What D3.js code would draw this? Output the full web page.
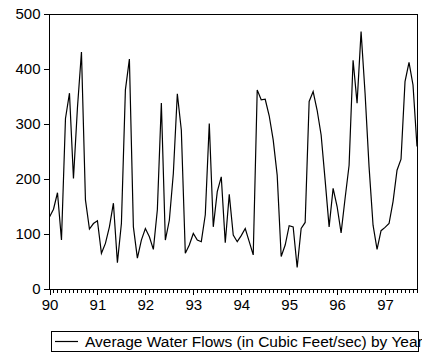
<!DOCTYPE html>
<html lang="en">

<head>
    <meta charset="UTF-8">
    <title>Average Water Flows</title>
    <script src="https://d3js.org/d3.v7.min.js"></script>
    <style>
        body {
            margin: 0;
            background: white;
        }

        svg text {
            font-family: "Liberation Sans", Arial, sans-serif;
            font-size: 15px;
            fill: black;
        }

        .legend-label {
            font-size: 15.5px;
        }

        .axis path,
        .axis line {
            stroke: black;
            shape-rendering: crispEdges;
        }
    </style>
</head>

<body>
    <div id="chart"></div>

    <script>
        // monthly observations, 1990M01 - 1997M09
        const yearLabels = ["90", "91", "92", "93", "94", "95", "96", "97"];
        const yTicks = [0, 100, 200, 300, 400, 500];
        const flows = [
            131, 145, 175, 89, 310, 356, 201, 330, 431, 162, 109, 119,
            124, 65, 83, 113, 156, 48, 119, 362, 418, 113, 56, 89,
            110, 95, 72, 144, 338, 89, 125, 210, 355, 289, 65, 80,
            101, 89, 86, 135, 301, 113, 177, 204, 84, 172, 98, 86,
            97, 110, 86, 62, 362, 344, 345, 315, 271, 207, 59, 80,
            115, 113, 39, 110, 121, 341, 359, 325, 280, 198, 113, 183,
            150, 102, 165, 225, 416, 338, 468, 356, 222, 116, 72, 106,
            112, 119, 159, 216, 236, 377, 412, 371, 259
        ];
        const seriesName = "Average Water Flows (in Cubic Feet/sec) by Year";

        const width = 422, height = 354;
        const plot = { left: 49.5, right: 417, top: 14, bottom: 289 };

        const svg = d3.select("#chart")
            .append("svg")
            .attr("width", width)
            .attr("height", height);

        // x is the month index
        const x = d3.scaleLinear()
            .domain([0, flows.length - 1])
            .range([plot.left, plot.right]);

        const y = d3.scaleLinear()
            .domain([0, 500])
            .range([plot.bottom, plot.top]);

        // frame
        svg.append("rect")
            .attr("x", plot.left)
            .attr("y", plot.top)
            .attr("width", plot.right - plot.left)
            .attr("height", plot.bottom - plot.top)
            .attr("fill", "none")
            .attr("stroke", "black")
            .attr("shape-rendering", "crispEdges");

        // Y axis
        svg.append("g")
            .attr("class", "axis")
            .attr("transform", `translate(${plot.left},0)`)
            .call(d3.axisLeft(y).tickValues(yTicks).tickSize(6).tickPadding(3).tickSizeOuter(0))
            .call(g => g.select(".domain").remove());

        // X axis: a tick each month, labels on January
        const months = d3.range(flows.length);
        const xAxis = svg.append("g")
            .attr("class", "axis")
            .attr("transform", `translate(0,${plot.bottom})`)
            .call(d3.axisBottom(x)
                .tickValues(months)
                .tickSize(4)
                .tickSizeOuter(0)
                .tickPadding(3)
                .tickFormat(i => i % 12 === 0 ? yearLabels[i / 12] : ""));
        xAxis.select(".domain").remove();
        xAxis.selectAll(".tick")
            .filter(i => i % 12 === 0)
            .select("line")
            .attr("y2", 6);
        xAxis.selectAll(".tick text").attr("dy", "0.95em");

        // series line
        const line = d3.line()
            .x((d, i) => x(i))
            .y(d => y(d));

        svg.append("path")
            .datum(flows)
            .attr("fill", "none")
            .attr("stroke", "black")
            .attr("stroke-width", 1.2)
            .attr("d", line);

        // legend
        const legend = svg.append("g");
        legend.append("rect")
            .attr("x", 51.5)
            .attr("y", 331.5)
            .attr("width", 367)
            .attr("height", 20)
            .attr("fill", "white")
            .attr("stroke", "black");
        legend.append("line")
            .attr("x1", 55)
            .attr("x2", 78)
            .attr("y1", 341.5)
            .attr("y2", 341.5)
            .attr("stroke", "black")
            .attr("stroke-width", 1.2);
        legend.append("text")
            .attr("class", "legend-label")
            .attr("x", 85)
            .attr("y", 346.5)
            .text(seriesName);
    </script>
</body>

</html>
